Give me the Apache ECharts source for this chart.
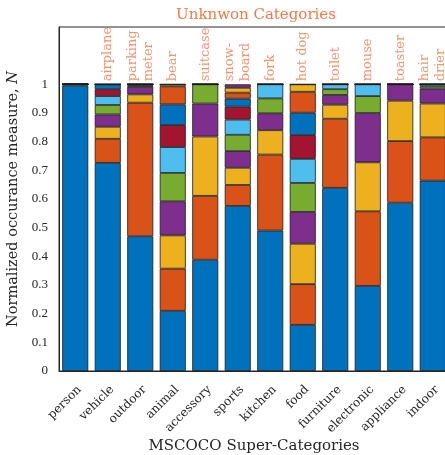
<!DOCTYPE html>
<html>
<head>
<meta charset="utf-8">
<script src="https://cdn.jsdelivr.net/npm/echarts@6/dist/echarts.min.js"></script>
<style>
  html, body { margin: 0; padding: 0; background: #fff; }
  #chart { width: 445px; height: 455px; }
</style>
</head>
<body>
<div id="chart"></div>
<script>
  // super-categories on the x axis
  const categories = ['person', 'vehicle', 'outdoor', 'animal', 'accessory', 'sports',
    'kitchen', 'food', 'furniture', 'electronic', 'appliance', 'indoor']
  // unknown category written above each bar
  const unknownLabels = ['', 'airplane', 'parking\nmeter', 'bear', 'suitcase', 'snow-\nboard',
    'fork', 'hot dog', 'toilet', 'mouse', 'toaster', 'hair\ndrier']

  // stacked shares per bar, bottom to top
  const person = [0.996, 0.004]
  const vehicle = [0.726, 0.084, 0.042, 0.043, 0.033, 0.031, 0.024, 0.017]
  const outdoor = [0.470, 0.466, 0.029, 0.026, 0.006, 0.003]
  const animal = [0.210, 0.147, 0.116, 0.119, 0.099, 0.090, 0.077, 0.072, 0.063, 0.007]
  const accessory = [0.388, 0.223, 0.207, 0.115, 0.067]
  const sports = [0.576, 0.073, 0.060, 0.058, 0.057, 0.053, 0.045, 0.028, 0.021, 0.017, 0.012]
  const kitchen = [0.490, 0.265, 0.085, 0.059, 0.052, 0.049]
  const food = [0.161, 0.142, 0.141, 0.111, 0.101, 0.084, 0.083, 0.078, 0.073, 0.026]
  const furniture = [0.639, 0.241, 0.049, 0.034, 0.020, 0.017]
  const electronic = [0.297, 0.260, 0.171, 0.172, 0.059, 0.041]
  const appliance = [0.587, 0.215, 0.141, 0.057]
  const indoor = [0.664, 0.151, 0.118, 0.052, 0.008, 0.007]

  const yTicks = [0, 0.1, 0.2, 0.3, 0.4, 0.5, 0.6, 0.7, 0.8, 0.9, 1]

  const bars = [person, vehicle, outdoor, animal, accessory, sports,
    kitchen, food, furniture, electronic, appliance, indoor]
  const palette = ['#0072BD', '#D95319', '#EDB120', '#7E2F8E', '#77AC30', '#4DBEEE', '#A2142F']
  const font = 'DejaVu Serif'
  const labelColor = '#EE7A4C'

  const nSeg = Math.max(...bars.map(b => b.length))
  let series = []
  for (let i = 0; i < nSeg; i++) {
    series.push({
      type: 'bar',
      stack: 'all',
      barCategoryGap: '20%',
      itemStyle: {
        color: palette[i % palette.length],
        borderColor: '#1a1a1a',
        borderWidth: 0.8
      },
      data: bars.map(b => (i < b.length ? b[i] : 0))
    })
  }
  // labels sitting on the top of each stack
  series.push({
    type: 'scatter',
    symbolSize: 0,
    silent: true,
    data: bars.map(b => b.reduce((a, v) => a + v, 0)),
    label: {
      show: true,
      position: 'top',
      distance: 3,
      rotate: 90,
      align: 'left',
      verticalAlign: 'middle',
      fontFamily: font,
      fontSize: 13,
      lineHeight: 16,
      color: labelColor,
      formatter: p => unknownLabels[p.dataIndex]
    }
  })

  let option = {
    animation: false,
    title: {
      text: 'Unknwon Categories',
      left: 251,
      textAlign: 'center',
      top: 3,
      textStyle: { fontFamily: font, fontSize: 15, fontWeight: 'normal', color: labelColor }
    },
    grid: {
      left: 59, top: 27, right: -4, bottom: 84,
      outerBoundsMode: 'none',
      show: true, borderColor: '#262626', borderWidth: 1
    },
    xAxis: {
      type: 'category',
      data: categories,
      name: 'MSCOCO Super-Categories',
      nameLocation: 'middle',
      nameGap: 68,
      nameMoveOverlap: false,
      nameTextStyle: { fontFamily: font, fontSize: 15, color: '#262626' },
      axisLine: { lineStyle: { color: '#262626' } },
      axisTick: { show: false },
      axisLabel: {
        interval: 0, rotate: 45, margin: 4,
        verticalAlign: 'top', padding: [6, 6, 0, 0],
        fontFamily: font, fontSize: 12, color: '#262626'
      }
    },
    yAxis: {
      type: 'value',
      min: 0, max: 1.2, interval: 0.1,
      name: 'Normalized occurance measure, {i|N}',
      nameLocation: 'middle',
      nameGap: 32,
      nameTextStyle: {
        fontFamily: font, fontSize: 14.5, color: '#262626',
        rich: { i: { fontFamily: font, fontSize: 14.5, fontStyle: 'italic', color: '#262626' } }
      },
      splitLine: { show: false },
      axisTick: { show: false },
      axisLine: { show: true, lineStyle: { color: '#262626' } },
      axisLabel: {
        margin: 11, fontFamily: 'Liberation Serif', fontSize: 13, color: '#262626',
        formatter: v => {
          const r = Math.round(v * 10) / 10
          return yTicks.indexOf(r) >= 0 ? String(r) : ''
        }
      }
    },
    series: series
  }

  const myCharts = echarts.init(document.getElementById('chart'))
  myCharts.setOption(option)
</script>
</body>
</html>
